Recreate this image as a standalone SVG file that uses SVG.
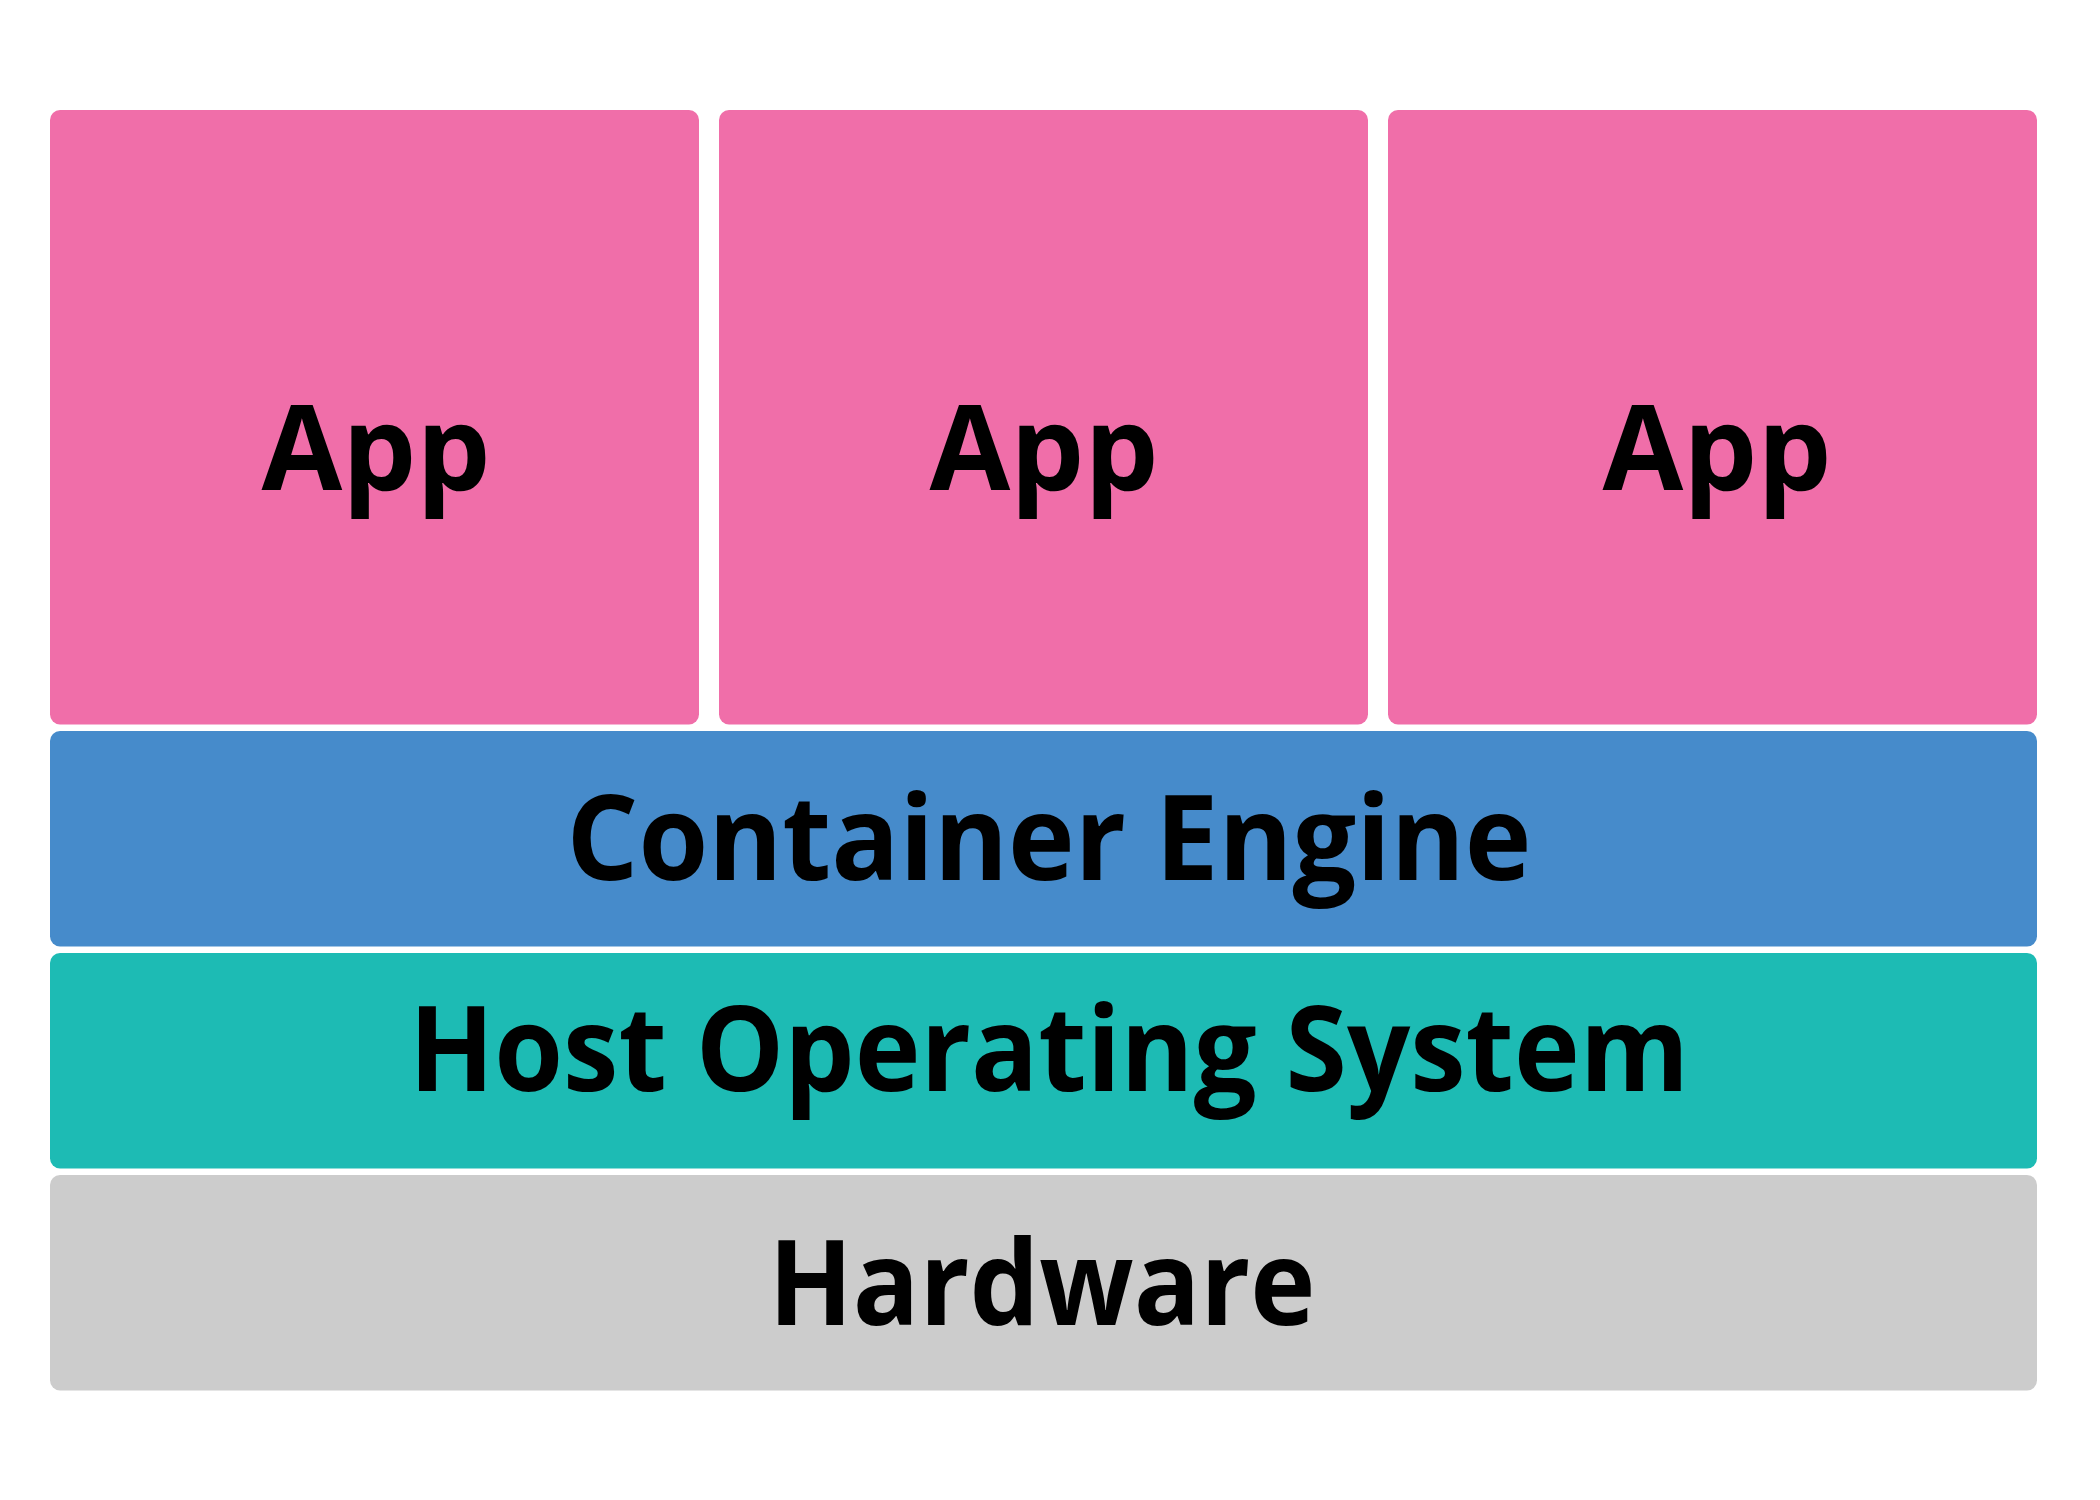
<svg xmlns="http://www.w3.org/2000/svg" width="2100" height="1500" viewBox="0 0 2100 1500">
<style>
.lbl{font-family:"Open Sans","Noto Sans","Liberation Sans",sans-serif;font-weight:700;font-size:118px;fill:#000;text-anchor:middle}
.app{fill:#F06EA9}
.eng{fill:#468BCB}
.os{fill:#1DBBB4}
.hw{fill:#CCCCCC}
</style>
<rect width="2100" height="1500" fill="#FFFFFF"/>
<g id="app1"><rect class="app" x="50" y="110" width="649" height="614.5" rx="10"/><text class="lbl" x="376" y="490" textLength="229" lengthAdjust="spacingAndGlyphs">App</text></g>
<g id="app2"><rect class="app" x="719" y="110" width="649" height="614.5" rx="10"/><text class="lbl" x="1044" y="490" textLength="229" lengthAdjust="spacingAndGlyphs">App</text></g>
<g id="app3"><rect class="app" x="1388" y="110" width="649" height="614.5" rx="10"/><text class="lbl" x="1717" y="490" textLength="229" lengthAdjust="spacingAndGlyphs">App</text></g>
<g id="engine"><rect class="eng" x="50" y="731" width="1987" height="215.5" rx="10"/><text class="lbl" x="1049" y="880" textLength="965" lengthAdjust="spacingAndGlyphs">Container Engine</text></g>
<g id="hostos"><rect class="os" x="50" y="953" width="1987" height="215.5" rx="10"/><text class="lbl" x="1049" y="1091" textLength="1280" lengthAdjust="spacingAndGlyphs">Host Operating System</text></g>
<g id="hardware"><rect class="hw" x="50" y="1175" width="1987" height="215.5" rx="10"/><text class="lbl" x="1042" y="1325" textLength="547" lengthAdjust="spacingAndGlyphs">Hardware</text></g>
<g id="connectors"></g>
</svg>
